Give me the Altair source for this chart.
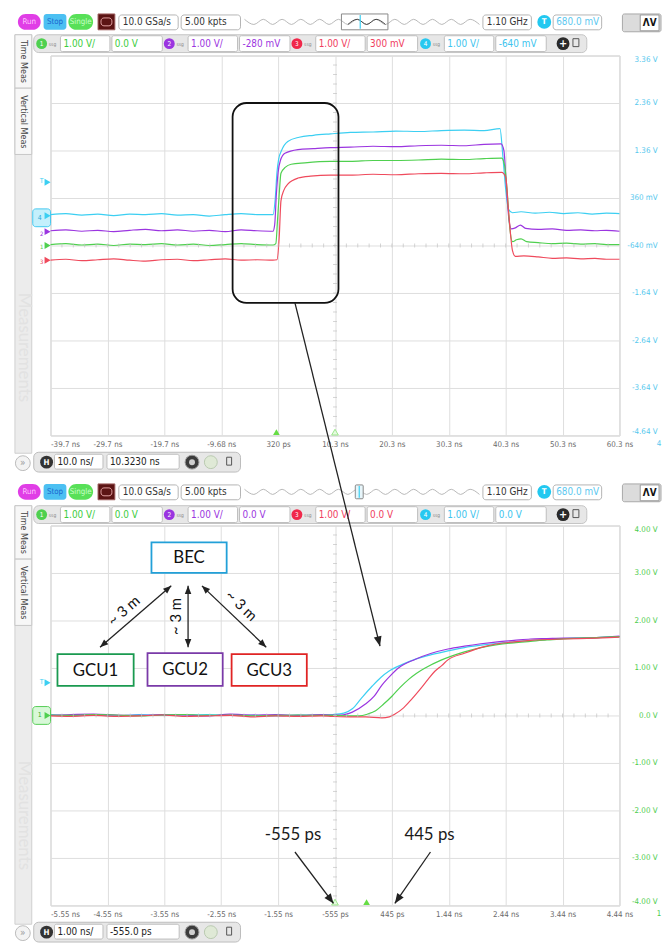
import json
import altair as alt
import pandas as pd

# ---------------- values ----------------
# upper screen: 10 ns/div, labels of channel 4 (1 V/div, centre -640 mV)
top_x_labels = ["-39.7 ns", "-29.7 ns", "-19.7 ns", "-9.68 ns", "320 ps", "10.3 ns",
                "20.3 ns", "30.3 ns", "40.3 ns", "50.3 ns", "60.3 ns"]
top_y_labels = ["-4.64 V", "-3.64 V", "-2.64 V", "-1.64 V", "-640 mV", "360 mV",
                "1.36 V", "2.36 V", "3.36 V"]
top_pre_t = [-39.7, -37.0, -34.2, -31.4, -28.6, -25.8, -23.0, -20.2, -17.4, -14.6, -11.8, -9.0, -6.2, -3.4, -0.6]

top_cyan_t = top_pre_t + [-0.2, 0.1, 0.4, 0.9, 2.0, 4.0, 6.5, 9.5, 13.0, 17.0, 21.0, 25.0, 29.0, 33.0, 36.5,
                          39.3, 39.8, 40.3, 40.8, 41.5, 43.0, 45.5, 48.0, 50.5, 53.0, 55.5, 58.0, 60.3]
top_cyan_v = [0.01, 0.03, 0.00, 0.02, -0.01, 0.02, 0.01, 0.03, 0.00, 0.01, -0.02, 0.01, 0.03, 0.01, 0.01,
              0.35, 0.90, 1.18, 1.36, 1.55, 1.64, 1.68, 1.71, 1.74, 1.75, 1.77, 1.76, 1.78, 1.79, 1.78,
              1.82, 1.25, 0.55, 0.12, 0.05, 0.07, 0.04, 0.06, 0.03, 0.05, 0.02, 0.04, 0.03]

top_purple_t = top_pre_t + [-0.3, 0.0, 0.3, 0.7, 1.5, 3.8, 6.5, 9.5, 13.0, 17.0, 21.0, 25.0, 29.0, 33.0, 36.5,
                            39.5, 40.0, 40.4, 40.9, 41.3, 42.0, 42.9, 43.8, 46.0, 48.5, 51.0, 53.5, 56.0, 58.0, 60.3]
top_purple_v = [-0.33, -0.31, -0.34, -0.32, -0.35, -0.32, -0.30, -0.33, -0.31, -0.34, -0.32, -0.35, -0.31, -0.33, -0.34,
                -0.20, 0.45, 0.90, 1.15, 1.30, 1.38, 1.40, 1.42, 1.43, 1.45, 1.44, 1.46, 1.47, 1.46, 1.49,
                1.50, 1.35, 0.65, -0.12, -0.29, -0.27, -0.21, -0.28, -0.30, -0.29, -0.32, -0.31, -0.33, -0.32, -0.34]

top_green_t = top_pre_t + [-0.1, 0.2, 0.5, 0.8, 1.6, 2.6, 5.0, 9.5, 13.0, 17.0, 21.0, 25.0, 29.0, 33.0, 36.5,
                           39.6, 40.1, 40.6, 41.0, 41.5, 42.2, 43.0, 44.0, 46.0, 48.5, 51.0, 53.5, 56.0, 58.0, 60.3]
top_green_v = [-0.62, -0.60, -0.63, -0.61, -0.64, -0.61, -0.62, -0.60, -0.63, -0.61, -0.64, -0.62, -0.60, -0.62, -0.63,
               -0.60, -0.10, 0.45, 0.88, 1.01, 1.07, 1.10, 1.13, 1.13, 1.15, 1.15, 1.16, 1.18, 1.17, 1.19,
               1.20, 1.05, 0.44, -0.24, -0.56, -0.52, -0.50, -0.56, -0.58, -0.60, -0.59, -0.61, -0.60, -0.62, -0.62]

top_red_t = top_pre_t + [0.1, 0.5, 0.8, 1.3, 2.0, 3.8, 6.0, 9.5, 13.0, 17.0, 21.0, 25.0, 29.0, 33.0, 36.5,
                         39.6, 40.3, 40.8, 41.5, 42.0, 43.5, 46.0, 48.5, 51.0, 53.5, 56.0, 58.0, 60.3]
top_red_v = [-0.95, -0.93, -0.96, -0.94, -0.92, -0.95, -0.97, -0.94, -0.93, -0.96, -0.94, -0.92, -0.95, -0.94, -0.95,
             -0.94, -0.45, 0.30, 0.52, 0.65, 0.78, 0.82, 0.84, 0.84, 0.86, 0.85, 0.87, 0.88, 0.87, 0.89,
             0.90, 0.80, 0.09, -0.75, -0.87, -0.86, -0.88, -0.91, -0.90, -0.92, -0.91, -0.93, -0.93]

# lower screen: 1 ns/div, 1 V/div, centre 0 V
bot_x_labels = ["-5.55 ns", "-4.55 ns", "-3.55 ns", "-2.55 ns", "-1.55 ns", "-555 ps",
                "445 ps", "1.44 ns", "2.44 ns", "3.44 ns", "4.44 ns"]
bot_y_labels = ["-4.00 V", "-3.00 V", "-2.00 V", "-1.00 V", "0.0 V", "1.00 V", "2.00 V", "3.00 V", "4.00 V"]
bot_pre_t = [-5.555, -5.2, -4.8, -4.4, -4.0, -3.6, -3.2, -2.8, -2.4, -2.0, -1.6, -1.2, -0.8]

bot_cyan_t = bot_pre_t + [-0.6, -0.4, -0.25, -0.1, 0.1, 0.25, 0.39, 0.62, 0.85, 1.14, 1.43, 1.72, 2.01, 2.30,
                          2.59, 2.88, 3.17, 3.46, 3.75, 4.04, 4.445]
bot_cyan_v = [0.02, 0.00, 0.01, -0.01, 0.02, 0.00, 0.01, 0.02, 0.00, 0.01, -0.01, 0.01, 0.01,
              0.02, 0.05, 0.14, 0.35, 0.62, 0.80, 0.93, 1.07, 1.18, 1.28, 1.36, 1.43, 1.48, 1.52,
              1.55, 1.58, 1.60, 1.62, 1.63, 1.64, 1.66]

bot_purple_t = bot_pre_t + [-0.6, -0.45, -0.25, -0.02, 0.13, 0.27, 0.42, 0.56, 0.85, 1.14, 1.43, 1.72, 2.01, 2.30,
                            2.59, 2.88, 3.17, 3.46, 3.75, 4.04, 4.445]
bot_purple_v = [0.00, 0.02, 0.03, 0.01, 0.00, 0.02, 0.01, -0.01, 0.03, 0.01, 0.02, 0.00, 0.02,
                0.01, 0.01, 0.07, 0.24, 0.40, 0.64, 0.84, 1.00, 1.18, 1.31, 1.40, 1.46, 1.51, 1.55,
                1.58, 1.61, 1.62, 1.63, 1.63, 1.64, 1.67]

bot_green_t = bot_pre_t + [-0.6, -0.3, -0.13, 0.02, 0.16, 0.30, 0.45, 0.59, 0.74, 0.88, 1.03, 1.32, 1.72, 2.01,
                           2.30, 2.59, 2.88, 3.17, 3.46, 4.04, 4.445]
bot_green_v = [0.01, 0.00, 0.02, 0.01, -0.01, 0.01, 0.02, 0.00, 0.01, -0.01, 0.00, 0.01, 0.00,
               0.00, -0.01, -0.01, 0.03, 0.10, 0.24, 0.41, 0.59, 0.76, 0.89, 1.00, 1.17, 1.34, 1.43,
               1.49, 1.53, 1.56, 1.59, 1.61, 1.64, 1.66]

bot_red_t = bot_pre_t + [-0.6, -0.3, -0.02, 0.27, 0.40, 0.50, 0.65, 0.79, 0.94, 1.08, 1.20, 1.32, 1.43, 1.72,
                         2.07, 2.30, 2.59, 2.88, 3.46, 4.04, 4.445]
bot_red_v = [-0.01, -0.02, 0.00, -0.02, -0.01, 0.01, -0.02, -0.01, 0.00, -0.03, -0.01, -0.02, -0.01,
             -0.02, -0.03, -0.03, -0.05, -0.03, 0.03, 0.16, 0.34, 0.55, 0.76, 0.93, 1.05, 1.17, 1.31,
             1.45, 1.51, 1.55, 1.58, 1.61, 1.63, 1.65]

top_channel_texts = [("1.00 V/", "0.0 V"), ("1.00 V/", "-280 mV"), ("1.00 V/", "300 mV"), ("1.00 V/", "-640 mV")]
bot_channel_texts = [("1.00 V/", "0.0 V"), ("1.00 V/", "0.0 V"), ("1.00 V/", "0.0 V"), ("1.00 V/", "0.0 V")]

# ---------------- styling ----------------
CY, PU, GR, RD = "#3ccff2", "#9b35e0", "#4fd04f", "#ef4a5c"
GRID = "#dedede"
UI = "DejaVu Sans Condensed, Liberation Sans, DejaVu Sans, sans-serif"
NARROW = "Liberation Sans Narrow, DejaVu Sans Condensed, Liberation Sans, sans-serif"
ANN = "Lato, Open Sans, sans-serif"
ONE = pd.DataFrame({"k": [0]})
HEAD = "M0,0 L-1.2,3 L1.2,3 Z"
W, H = 575, 384

TOP = dict(ox=50, oy=50, t0=-39.7, t1=60.3, v0=-4.64, v1=3.36, xl=top_x_labels, yl=top_y_labels,
           ycol="#55c8ee", first="datum.value < -39")
BOT = dict(ox=50, oy=525, t0=-5.555, t1=4.445, v0=-4.0, v1=4.0, xl=bot_x_labels, yl=bot_y_labels,
           ycol="#4ccc4c", first="datum.value < -5.5")


def xs(P):
    return alt.Scale(domain=[P["t0"], P["t1"]], nice=False, zero=False)


def ys(P):
    return alt.Scale(domain=[P["v0"], P["v1"]], nice=False, zero=False)


def xa(P):
    step = (P["t1"] - P["t0"]) / 10
    xvals = [round(P["t0"] + k * step, 4) for k in range(11)]
    xexpr = f"{json.dumps(P['xl'])}[round((datum.value - ({P['t0']})) / {step})]"
    return alt.Axis(values=xvals, labelExpr=xexpr, grid=True, gridColor=GRID, domain=False, ticks=False,
                    tickSize=0, labelFont=NARROW, labelFontSize=8, labelColor="#6a6a6a", labelPadding=5,
                    labelBaseline="top", labelFlush=False, labelOverlap=False, title=None,
                    labelAlign={"condition": {"test": P["first"], "value": "left"}, "value": "center"})


def ya(P):
    yvals = [round(P["v0"] + k, 4) for k in range(9)]
    yexpr = f"{json.dumps(P['yl'])}[round(datum.value - ({P['v0']}))]"
    return alt.Axis(orient="right", values=yvals, labelExpr=yexpr, grid=True, gridColor=GRID, domain=False,
                    ticks=False, tickSize=0, labelFont=NARROW, labelFontSize=8, labelColor=P["ycol"],
                    labelPadding=38, labelAlign="right", labelFlush=True, labelOverlap=False, title=None)


def XF(P, f):
    return alt.X(f, scale=xs(P), axis=xa(P))


def YF(P, f):
    return alt.Y(f, scale=ys(P), axis=ya(P))


def XD(P, t):
    return alt.XDatum(t, scale=xs(P), axis=xa(P))


def YD(P, v):
    return alt.YDatum(v, scale=ys(P), axis=ya(P))


def R(P, x0, y0, x1, y1, fill="#ffffff", stroke=None, sw=1.0, r=0, fo=1.0):
    kw = dict(fill=fill, fillOpacity=fo, cornerRadius=r)
    if stroke:
        kw.update(stroke=stroke, strokeWidth=sw)
    else:
        kw.update(strokeWidth=0)
    return alt.Chart(ONE).mark_rect(**kw).encode(
        x=alt.value(x0 - P["ox"]), x2=alt.value(x1 - P["ox"]),
        y=alt.value(y0 - P["oy"]), y2=alt.value(y1 - P["oy"]))


def T(P, x, y, s, size=10, color="#333", font=UI, align="center", angle=0, weight="normal", baseline="middle"):
    return alt.Chart(ONE).mark_text(text=s, fontSize=size, color=color, font=font, align=align,
                                    baseline=baseline, angle=angle, fontWeight=weight).encode(
        x=alt.value(x - P["ox"]), y=alt.value(y - P["oy"]))


def C(P, x, y, d, fill, stroke=None, sw=1.0, shape="circle"):
    kw = dict(shape=shape, size=d * d, filled=True, fill=fill, opacity=1)
    if stroke:
        kw.update(stroke=stroke, strokeWidth=sw)
    else:
        kw.update(strokeWidth=0)
    return alt.Chart(ONE).mark_point(**kw).encode(x=alt.value(x - P["ox"]), y=alt.value(y - P["oy"]))


def Lp(P, x0, y0, x1, y1, color="#222", sw=1.3):
    return alt.Chart(ONE).mark_rule(color=color, strokeWidth=sw).encode(
        x=alt.value(x0 - P["ox"]), y=alt.value(y0 - P["oy"]),
        x2=alt.value(x1 - P["ox"]), y2=alt.value(y1 - P["oy"]))


def Hp(P, x, y, ang, size=30, color="#222"):
    return alt.Chart(ONE).mark_point(shape=HEAD, size=size, angle=ang, filled=True, fill=color,
                                     strokeWidth=0, opacity=1).encode(
        x=alt.value(x - P["ox"]), y=alt.value(y - P["oy"]))


# data-unit annotation helpers
def Ld(P, t0, v0, t1, v1, color="#222", sw=1.3):
    return alt.Chart(ONE).mark_rule(color=color, strokeWidth=sw).encode(
        x=XD(P, t0), x2=alt.X2Datum(t1), y=YD(P, v0), y2=alt.Y2Datum(v1))


def Hd(P, t, v, ang, size=44, color="#222"):
    return alt.Chart(ONE).mark_point(shape=HEAD, size=size, angle=ang, filled=True, fill=color,
                                     strokeWidth=0, opacity=1).encode(x=XD(P, t), y=YD(P, v))


def Td(P, t, v, s, size=17, color="#1a1a1a"):
    return alt.Chart(ONE).mark_text(text=s, fontSize=size, color=color, font=ANN).encode(
        x=XD(P, t), y=YD(P, v))


def px2t(P, px):
    return P["t0"] + (px - P["ox"]) / W * (P["t1"] - P["t0"])


def py2v(P, py):
    return P["v1"] - (py - P["oy"]) / H * (P["v1"] - P["v0"])


def wave(P, yc, x0, x1, color, sw=1.0):
    pts = []
    k = 0
    x = 246.0
    while x <= 485.5:
        if x0 - 0.1 <= x <= x1 + 0.1:
            pts.append({"t": px2t(P, x), "v": py2v(P, yc + (2.6 if k % 2 else -2.6)), "i": k})
        k += 1
        x += 9.5
    return alt.Chart(pd.DataFrame(pts)).mark_line(color=color, strokeWidth=sw, interpolate="monotone").encode(
        x=XF(P, "t:Q"), y=YF(P, "v:Q"), order="i:Q")


def toolbar1(P, y0, top):
    L = [
        R(P, 17, y0, 40, y0 + 16, fill="#e03ee6", r=8), T(P, 28.5, y0 + 8, "Run", 8, "#ffc8ff"),
        R(P, 43, y0, 66, y0 + 16, fill="#4cc0f2", r=3), T(P, 54.5, y0 + 8, "Stop", 8, "#1a68d0"),
        R(P, 68, y0, 93, y0 + 16, fill="#58e058", r=8), T(P, 80.5, y0 + 8, "Single", 8, "#c8ffc8"),
        R(P, 98, y0, 115, y0 + 16, fill="#5c1414", stroke="#a06060"),
        R(P, 101, y0 + 4, 112, y0 + 12, fill="#5c1414", stroke="#e0a0a0", r=3),
        R(P, 119, y0 + 1, 179, y0 + 16, stroke="#b4b4b4", r=3), T(P, 123, y0 + 8.5, "10.0 GSa/s", 10, "#333", align="left"),
        R(P, 182, y0 + 1, 242, y0 + 16, stroke="#b4b4b4", r=3), T(P, 186, y0 + 8.5, "5.00 kpts", 10, "#333", align="left"),
        wave(P, y0 + 8, 246, 486, "#b8b8b8"),
    ]
    if top:
        L += [R(P, 344, y0, 391, y0 + 16, fill="#ffffff", fo=0, stroke="#888"),
              wave(P, y0 + 8, 344, 391, "#444"),
              Lp(P, 363, y0 + 1, 363, y0 + 15, CY, 1.2)]
    else:
        L += [R(P, 358, y0 + 1, 366, y0 + 15, fill="#e8f6fb", stroke="#888", r=1),
              Lp(P, 362, y0 + 2, 362, y0 + 14, CY, 1.2)]
    L += [
        R(P, 487, y0 + 1, 536, y0 + 16, stroke="#b4b4b4", r=3), T(P, 491, y0 + 8.5, "1.10 GHz", 10, "#333", align="left"),
        C(P, 549, y0 + 8, 14, "#22c8f0"), T(P, 549, y0 + 8.5, "T", 8, "#ffffff", weight="bold"),
        R(P, 558, y0 + 1, 607, y0 + 16, stroke="#b4b4b4", r=3), T(P, 561, y0 + 8.5, "680.0 mV", 10, "#5cc8f0", align="left"),
        R(P, 628, y0, 667, y0 + 18, fill="#dcdcdc", stroke="#a8a8a8", r=2),
        R(P, 646, y0 + 1, 665, y0 + 17, fill="#ffffff", stroke="#999"),
        T(P, 655.5, y0 + 9.5, "ɅV", 10, "#111", weight="bold"),
    ]
    return L


def toolbar2(P, y1, texts):
    cols = [GR, PU, "#f0284a", "#28c8f0"]
    tcols = ["#3ccc3c", "#9b35e0", "#f04060", "#40c4ee"]
    L = [R(P, 33, y1, 592, y1 + 18, fill="#e7e7e7", stroke="#c4c4c4", r=5)]
    for n, (cx, col, tc, (a, b)) in enumerate(zip([41, 170, 299, 429], cols, tcols, texts)):
        L += [C(P, cx, y1 + 9, 11, col), T(P, cx, y1 + 9.5, str(n + 1), 6.5, "#ffffff"),
              T(P, cx + 11, y1 + 9, "ssg", 5, "#888"),
              R(P, cx + 19, y1 + 1, cx + 69, y1 + 17, stroke="#bdbdbd", r=2),
              T(P, cx + 22, y1 + 9.5, a, 10, tc, align="left"),
              R(P, cx + 71, y1 + 1, cx + 122, y1 + 17, stroke="#bdbdbd", r=2),
              T(P, cx + 74, y1 + 9.5, b, 10, tc, align="left")]
    L += [C(P, 568, y1 + 9, 13, "#2a2a2a"), T(P, 568, y1 + 9.5, "+", 11, "#ffffff", weight="bold"),
          R(P, 578, y1 + 4, 584, y1 + 12, fill="#ffffff", fo=0, stroke="#555")]
    return L


def leftcol(P, y1, ybot, fade_c):
    return [
        R(P, 14, y1, 31, ybot, fill="#ececec", stroke="#cfcfcf"),
        R(P, 14, y1, 31, y1 + 54, fill="#f7f7f7", stroke="#c6c6c6"),
        T(P, 23, y1 + 27, "Time Meas", 9, "#444", angle=90),
        R(P, 14, y1 + 54, 31, y1 + 121, fill="#f7f7f7", stroke="#c6c6c6"),
        T(P, 23, y1 + 88, "Vertical Meas", 9, "#444", angle=90),
        T(P, 23, fade_c, "Measurements", 17, "#e2e2e2", font=ANN, angle=90),
    ]


def htoolbar(P, yh, a, b):
    return [
        R(P, 33, yh, 242, yh + 20, fill="#e7e7e7", stroke="#bcbcbc", r=5),
        C(P, 22, yh + 11, 15, "#f3f3f3", stroke="#bbbbbb"), T(P, 22, yh + 11, "»", 10, "#9a9a9a"),
        C(P, 46, yh + 10, 13, "#333333"), T(P, 46, yh + 10.5, "H", 8, "#ffffff", weight="bold"),
        R(P, 54, yh + 2, 103, yh + 17, stroke="#bdbdbd", r=2), T(P, 57, yh + 10, a, 10, "#222", align="left"),
        R(P, 107, yh + 2, 180, yh + 17, stroke="#bdbdbd", r=2), T(P, 110, yh + 10, b, 10, "#222", align="left"),
        C(P, 193, yh + 10, 14, "#3c3c3c", stroke="#999"), C(P, 193, yh + 10, 6, "#cfcfcf"),
        C(P, 212, yh + 10, 13, "#dfe9d6", stroke="#b9c9b0"),
        R(P, 228, yh + 5, 233, yh + 13, fill="#ffffff", fo=0, stroke="#555"),
    ]


def traces(P, series):
    rows = []
    for ch, (ts, vs) in series.items():
        for i, (t, v) in enumerate(zip(ts, vs)):
            rows.append({"ch": ch, "t": t, "v": v, "i": i})
    df = pd.DataFrame(rows)
    return alt.Chart(df).mark_line(strokeWidth=1.2, interpolate="monotone").encode(
        x=XF(P, "t:Q"), y=YF(P, "v:Q"),
        color=alt.Color("ch:N", scale=alt.Scale(domain=["4", "2", "1", "3"], range=[CY, PU, GR, RD]), legend=None),
        order="i:Q",
    )


def center_ticks(P, tc, vc):
    step = (P["t1"] - P["t0"]) / 50
    tt = pd.DataFrame({"t": [P["t0"] + k * step for k in range(1, 50)]})
    vv = pd.DataFrame({"v": [P["v0"] + k * 0.2 for k in range(1, 40)]})
    a = alt.Chart(tt).mark_tick(orient="vertical", size=4, thickness=1, color="#c2c2c2").encode(
        x=XF(P, "t:Q"), y=YD(P, vc))
    b = alt.Chart(vv).mark_tick(orient="horizontal", size=4, thickness=1, color="#c2c2c2").encode(
        y=YF(P, "v:Q"), x=XD(P, tc))
    return [a, b]


def trig_tri(P, t, filled):
    if filled:
        m = alt.Chart(ONE).mark_point(shape="triangle-up", size=45, filled=True, fill="#66dd44", strokeWidth=0, opacity=1)
    else:
        m = alt.Chart(ONE).mark_point(shape="triangle-up", size=45, filled=True, fill="#e6fae0",
                                      stroke="#9be88b", strokeWidth=1, opacity=1)
    return m.encode(x=XD(P, t), y=YD(P, P["v0"] + 0.07))


def marker(P, y, col, label):
    return [C(P, 47, y, 7, col, shape="triangle-right"), T(P, 41, y + 2, label, 6, col)]


# ---------------- upper panel ----------------
P = TOP
top_layers = [traces(P, {"4": (top_cyan_t, top_cyan_v), "2": (top_purple_t, top_purple_v),
                         "1": (top_green_t, top_green_v), "3": (top_red_t, top_red_v)})]
top_layers += [R(P, 8, 8, 9, 9, fill="#ffffff", fo=0)]
top_layers += toolbar1(P, 8, True)
top_layers += toolbar2(P, 29, top_channel_texts)
top_layers += leftcol(P, 29, 452, 345)
top_layers += htoolbar(P, 451, "10.0 ns/", "10.3230 ns")
top_layers += center_ticks(P, 10.3, -0.64)
top_layers += [C(P, 47, 178, 7, CY, shape="triangle-right"), T(P, 41, 177, "T", 7, CY)]
top_layers += [R(P, 32, 205, 50, 223, fill="#c4f0fc", stroke="#44c8f0", r=3),
               T(P, 39, 214, "4", 7, "#2aa8d8"), C(P, 47, 212, 7, CY, shape="triangle-right")]
top_layers += marker(P, 228, PU, "2") + marker(P, 242, GR, "1") + marker(P, 257, RD, "3")
top_layers += [trig_tri(P, 0.0, True), trig_tri(P, 10.3, False)]
top_layers += [alt.Chart(ONE).mark_rect(cornerRadius=14, fill="#ffffff", fillOpacity=0, stroke="#111",
                                        strokeWidth=1.8).encode(
    x=XD(P, -7.7), x2=alt.X2Datum(10.91), y=YD(P, 2.36), y2=alt.Y2Datum(-1.85))]
top_layers += [T(P, 665, 443, "4", 8, "#55c8ee", font=NARROW)]

top = alt.layer(*top_layers).properties(width=W, height=H)

# ---------------- lower panel ----------------
P = BOT
bot_layers = [traces(P, {"4": (bot_cyan_t, bot_cyan_v), "2": (bot_purple_t, bot_purple_v),
                         "1": (bot_green_t, bot_green_v), "3": (bot_red_t, bot_red_v)})]
bot_layers += toolbar1(P, 483, False)
bot_layers += toolbar2(P, 505, bot_channel_texts)
bot_layers += leftcol(P, 505, 928, 818)
bot_layers += htoolbar(P, 926, "1.00 ns/", "-555.0 ps")
bot_layers += center_ticks(P, -0.555, 0.0)
bot_layers += [C(P, 47, 684, 7, CY, shape="triangle-right"), T(P, 41, 683, "T", 7, CY)]
bot_layers += [R(P, 32, 708, 50, 726, fill="#d8f8d8", stroke="#55cc55", r=3),
               T(P, 39, 717, "1", 7, "#33aa33"), C(P, 47, 717, 7, GR, shape="triangle-right")]
bot_layers += [trig_tri(P, -0.555, False), trig_tri(P, 0.0, True)]

# cabling diagram
bot_layers += [
    R(P, 152, 542, 228, 573, fill="#ffffff", stroke="#22a0d8", sw=1.8), T(P, 190, 558, "BEC", 17, "#111", font=ANN),
    R(P, 57, 655, 134, 687, fill="#ffffff", stroke="#1a9a50", sw=1.8), T(P, 95.5, 672, "GCU1", 17, "#111", font=ANN),
    R(P, 148, 654, 224, 687, fill="#ffffff", stroke="#7a3aa8", sw=1.8), T(P, 186, 671, "GCU2", 17, "#111", font=ANN),
    R(P, 233, 655, 309, 687, fill="#ffffff", stroke="#e02424", sw=1.8), T(P, 271, 672, "GCU3", 17, "#111", font=ANN),
    Lp(P, 100, 648, 172, 586), Hp(P, 172, 586, 49.3), Hp(P, 100, 648, 229.3),
    Lp(P, 189, 586, 189, 648), Hp(P, 189, 586, 0), Hp(P, 189, 648, 180),
    Lp(P, 203, 586, 268, 648), Hp(P, 268, 648, 133.6), Hp(P, 203, 586, 313.6),
    T(P, 124, 611, "~ 3 m", 15, "#111", font=ANN, angle=319),
    T(P, 177, 617, "~ 3 m", 15, "#111", font=ANN, angle=270),
    T(P, 243, 606, "~ 3 m", 15, "#111", font=ANN, angle=44),
]
# time markers
bot_layers += [
    Td(P, -1.294, -2.52, "-555 ps"), Td(P, 1.106, -2.52, "445 ps"),
    Ld(P, -1.259, -2.875, -0.581, -3.958), Hd(P, -0.581, -3.958, 143.1),
    Ld(P, 1.123, -2.875, 0.497, -3.958), Hd(P, 0.497, -3.958, 214.7),
    # long arrow from the zoom box of the upper screen to the rising edges
    Ld(P, -1.259, 8.6875, 0.236, 1.458), Hd(P, 0.236, 1.458, 166.1),
]
bot_layers += [T(P, 665, 918, "1", 8, "#4ccc4c", font=NARROW)]

bottom = alt.layer(*bot_layers).properties(width=W, height=H)

chart = alt.vconcat(top, bottom, spacing=91, bounds="flush").properties(
    padding=0, background="#ffffff").configure_view(stroke="#cccccc", strokeWidth=1)

chart.save("out.html", embed_options={"renderer": "svg", "actions": False})
